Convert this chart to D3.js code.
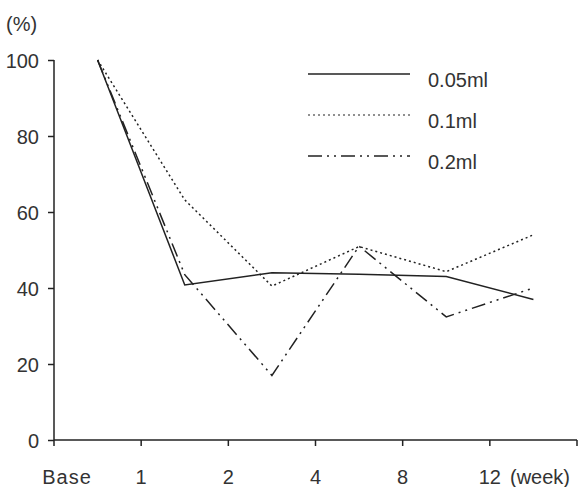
<!DOCTYPE html>
<html><head><meta charset="utf-8">
<script src="https://cdn.jsdelivr.net/npm/d3@7"></script>
<style>body{margin:0;background:#fff}text{font-family:"Liberation Sans",Arial,sans-serif;fill:#333}</style>
</head><body><svg id="c" width="587" height="487"></svg>
<script>
const categories = ["Base","1","2","4","8","12"];
const seriesNames = ["0.05ml","0.1ml","0.2ml"];
const s005 = [100, 40.8, 44, 43.6, 43, 37];
const s01  = [100, 63.2, 40.5, 50.9, 44.3, 54];
const s02  = [100, 43.5, 17, 51, 32.4, 40];
const yTicks = [0,20,40,60,80,100];

const series = [s005, s01, s02];
const dashes = [null, "2,3", "14,5,2,5,2,5"];
const FS = "20px";

const svg = d3.select("#c");
const x = d3.scaleBand().domain(categories).range([54, 577]);
const y = d3.scaleLinear().domain([0,100]).range([440, 60]);

// y axis
const ya = svg.append("g").attr("transform","translate(54,0)")
  .call(d3.axisLeft(y).tickValues(yTicks).tickSize(6).tickPadding(9));
ya.select(".domain").attr("d","M0,"+y(100)+"V"+y(0));
ya.selectAll("line,path").attr("stroke","#222").attr("stroke-width",1.5);
ya.selectAll("text").style("font-size",FS).attr("fill","#333").attr("dy","0.36em");

// x axis
const bounds = categories.map(c=>x(c)).concat([x.range()[1]]);
const xa = svg.append("g").attr("transform","translate(0,440)");
xa.append("line").attr("x1",54).attr("x2",577).attr("stroke","#222").attr("stroke-width",1.5);
xa.selectAll("line.t").data(bounds).join("line").attr("class","t")
  .attr("x1",d=>d).attr("x2",d=>d).attr("y1",0).attr("y2",6)
  .attr("stroke","#222").attr("stroke-width",1.5);
xa.selectAll("text.l").data(categories).join("text").attr("class","l")
  .attr("x",(d,i)=> i===0 ? x(d)+13 : x(d))
  .attr("y",44).attr("text-anchor","middle").style("font-size",FS)
  .style("letter-spacing",(d,i)=>i===0?"1px":null).text(d=>d);
xa.append("text").attr("x",510).attr("y",44).style("font-size",FS).text("(week)");

svg.append("text").attr("x",6).attr("y",31).style("font-size",FS).text("(%)");

const line = d3.line().x((d,i)=>x(categories[i])+x.bandwidth()/2).y(d=>y(d));
series.forEach((s,k)=>{
  svg.append("path").datum(s).attr("d",line).attr("fill","none")
    .attr("stroke","#222").attr("stroke-width",1.5)
    .attr("stroke-dasharray",dashes[k]);
});

// legend
const lg = svg.append("g");
seriesNames.forEach((n,k)=>{
  const yy = 74 + k*41;
  lg.append("line").attr("x1",308).attr("x2",410).attr("y1",yy).attr("y2",yy)
    .attr("stroke","#222").attr("stroke-width",k===1?1.2:1.5).attr("stroke-dasharray",dashes[k]);
  lg.append("text").attr("x",428).attr("y",yy+13).style("font-size",FS).text(n);
});
</script></body></html>
